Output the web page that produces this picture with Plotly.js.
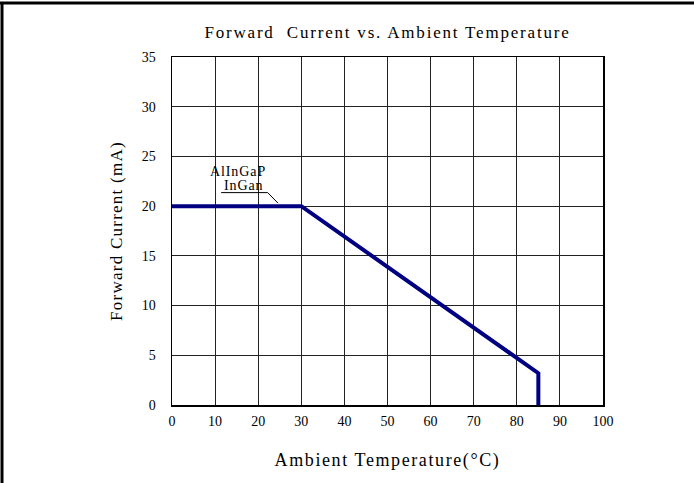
<!DOCTYPE html>
<html>
<head>
<meta charset="utf-8">
<script src="https://cdn.plot.ly/plotly-3.0.1.min.js"></script>
<style>
  html, body { margin: 0; padding: 0; background: #fff; }
  #chart { width: 694px; height: 483px; }
  .gtitle { letter-spacing: 1.8px; }
  .xtitle { letter-spacing: 1.6px; }
  .ytitle { letter-spacing: 1.25px; }
  .annotation-text { letter-spacing: 0.9px; }
</style>
</head>
<body>
<div id="chart"></div>
<script>
// Data
const temperature = [0, 30, 85, 85];          // Ambient temperature (°C)
const forwardCurrent = [20, 20, 3.2, 0];      // Forward current (mA)
const xTicks = [0, 10, 20, 30, 40, 50, 60, 70, 80, 90, 100];
const yTicks = [0, 5, 10, 15, 20, 25, 30, 35];
const seriesLabels = ["AlInGaP", "InGan"];

const serif = "'Liberation Serif', 'Times New Roman', serif";

const trace = {
  x: temperature,
  y: forwardCurrent,
  type: 'scatter',
  mode: 'lines',
  line: { color: '#000080', width: 4 },
  hoverinfo: 'skip',
  showlegend: false
};

const layout = {
  width: 694,
  height: 483,
  margin: { l: 172, r: 91, t: 57, b: 78 },
  paper_bgcolor: '#ffffff',
  plot_bgcolor: '#ffffff',
  font: { family: serif, color: '#000', size: 14 },
  title: {
    text: 'Forward&nbsp; Current vs. Ambient Temperature',
    font: { family: serif, size: 17, color: '#000' },
    xref: 'paper', x: 0.5, xanchor: 'center',
    yref: 'container', y: 1 - 32 / 483, yanchor: 'middle'
  },
  xaxis: {
    range: [0, 100],
    tickvals: xTicks,
    ticktext: xTicks.map(String),
    showgrid: true, gridcolor: '#222', gridwidth: 1,
    zeroline: false,
    showline: true, linecolor: '#000', linewidth: 1.5, mirror: true,
    ticks: 'outside', ticklen: 3, tickcolor: 'rgba(0,0,0,0)',
    tickfont: { family: serif, size: 14, color: '#000' },
    title: { text: 'Ambient Temperature(°C)', font: { family: serif, size: 18, color: '#000' }, standoff: 25 },
    fixedrange: true
  },
  yaxis: {
    range: [0, 35],
    tickvals: yTicks,
    ticktext: yTicks.map(String),
    showgrid: true, gridcolor: '#222', gridwidth: 1,
    zeroline: false,
    showline: true, linecolor: '#000', linewidth: 1.5, mirror: true,
    ticks: 'outside', ticklen: 12, tickcolor: 'rgba(0,0,0,0)',
    tickfont: { family: serif, size: 14, color: '#000' },
    title: { text: 'Forward Current (mA)', font: { family: serif, size: 17, color: '#000' }, standoff: 15 },
    fixedrange: true
  },
  annotations: [
    { x: 15.4, y: 23.5, xref: 'x', yref: 'y', text: seriesLabels[0], showarrow: false,
      font: { family: serif, size: 14, color: '#000' }, xanchor: 'center', yanchor: 'middle' },
    { x: 16.8, y: 22.1, xref: 'x', yref: 'y', text: seriesLabels[1], showarrow: false,
      font: { family: serif, size: 14, color: '#000' }, xanchor: 'center', yanchor: 'middle' }
  ],
  shapes: [
    // leader line under the label
    { type: 'path', xref: 'x', yref: 'y', path: 'M 11.4 21.36 L 22.2 21.36 L 24.6 20.3',
      line: { color: '#000', width: 1 } },
    // outer frame: left and top edges
    { type: 'line', xref: 'paper', yref: 'paper', x0: -170 / 431, x1: -170 / 431, y0: -78 / 348, y1: 402 / 348,
      line: { color: '#000', width: 3 } },
    { type: 'line', xref: 'paper', yref: 'paper', x0: -172 / 431, x1: 522 / 431, y0: 402 / 348, y1: 402 / 348,
      line: { color: '#000', width: 3 } }
  ]
};

Plotly.newPlot('chart', [trace], layout, { staticPlot: true, displayModeBar: false });
</script>
</body>
</html>
